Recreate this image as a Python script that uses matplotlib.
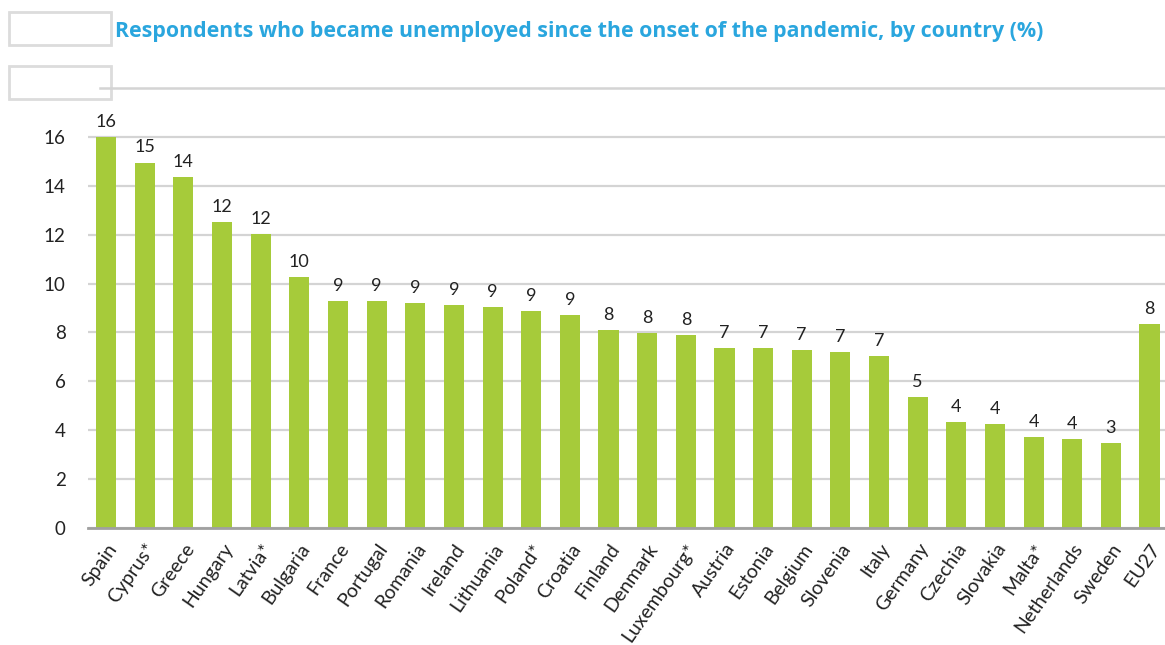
import matplotlib.pyplot as plt
from matplotlib.patches import FancyBboxPatch
from matplotlib.lines import Line2D

# datos por país (%)
paises = ['Spain', 'Cyprus*', 'Greece', 'Hungary', 'Latvia*', 'Bulgaria', 'France',
          'Portugal', 'Romania', 'Ireland', 'Lithuania', 'Poland*', 'Croatia', 'Finland',
          'Denmark', 'Luxembourg*', 'Austria', 'Estonia', 'Belgium', 'Slovenia', 'Italy',
          'Germany', 'Czechia', 'Slovakia', 'Malta*', 'Netherlands', 'Sweden', 'EU27']
valores = [16.0, 14.95, 14.35, 12.5, 12.03, 10.25, 9.27, 9.27, 9.2, 9.12, 9.04, 8.88,
           8.72, 8.1, 7.98, 7.9, 7.36, 7.36, 7.28, 7.2, 7.04, 5.36, 4.34, 4.26, 3.72,
           3.64, 3.48, 8.35]
yticks = [0, 2, 4, 6, 8, 10, 12, 14, 16]

titulo = 'Respondents who became unemployed since the onset of the pandemic, by country (%)'

plt.rcParams['font.family'] = ['Lato', 'DejaVu Sans']

W, H = 1165, 645
fig = plt.figure(figsize=(W / 100, H / 100), dpi=100)
ax = fig.add_axes([88 / W, (H - 528) / H, (W - 88) / W, 440 / H])

x = list(range(len(paises)))
ax.bar(x, valores, width=0.52, color='#a6cb3a', zorder=3)

for xi, v in zip(x, valores):
    ax.text(xi, v + 0.3, f'{round(v)}', ha='center', va='bottom',
            fontsize=13, color='#222222')

ax.set_ylim(0, 18)
ax.set_xlim(-0.47, 27.4)
ax.set_yticks(yticks)
ax.set_yticklabels([str(t) for t in yticks], fontsize=13.5, color='#222222')
ax.tick_params(axis='y', length=0, pad=16)
ax.grid(axis='y', color='#d4d4d4', lw=1.6, zorder=0)
ax.set_xticks(x)
ax.set_xticklabels(paises, rotation=55, ha='right', rotation_mode='anchor',
                   fontsize=14, color='#222222')
ax.tick_params(axis='x', length=0, pad=9)

for s in ['top', 'right', 'left']:
    ax.spines[s].set_visible(False)
ax.spines['bottom'].set_color('#a0a0a0')
ax.spines['bottom'].set_linewidth(2)
ax.spines['bottom'].set_zorder(4)

# línea superior y recuadros vacíos
fig.add_artist(Line2D([100 / W, 1.0], [(H - 88) / H] * 2, color='#d4d4d4', lw=1.8))
for y0 in [12, 66]:
    caja = FancyBboxPatch((9 / W, (H - y0 - 33) / H), 102 / W, 33 / H,
                          boxstyle='square,pad=0', transform=fig.transFigure,
                          facecolor='white', edgecolor='#dcdcdc', lw=2)
    fig.add_artist(caja)

fig.text(115 / W, (H - 32) / H, titulo, fontsize=15.4, fontweight='bold',
         family=['Open Sans', 'DejaVu Sans'], color='#2aa6de', ha='left', va='center')

fig.savefig('out.png', dpi=100)
